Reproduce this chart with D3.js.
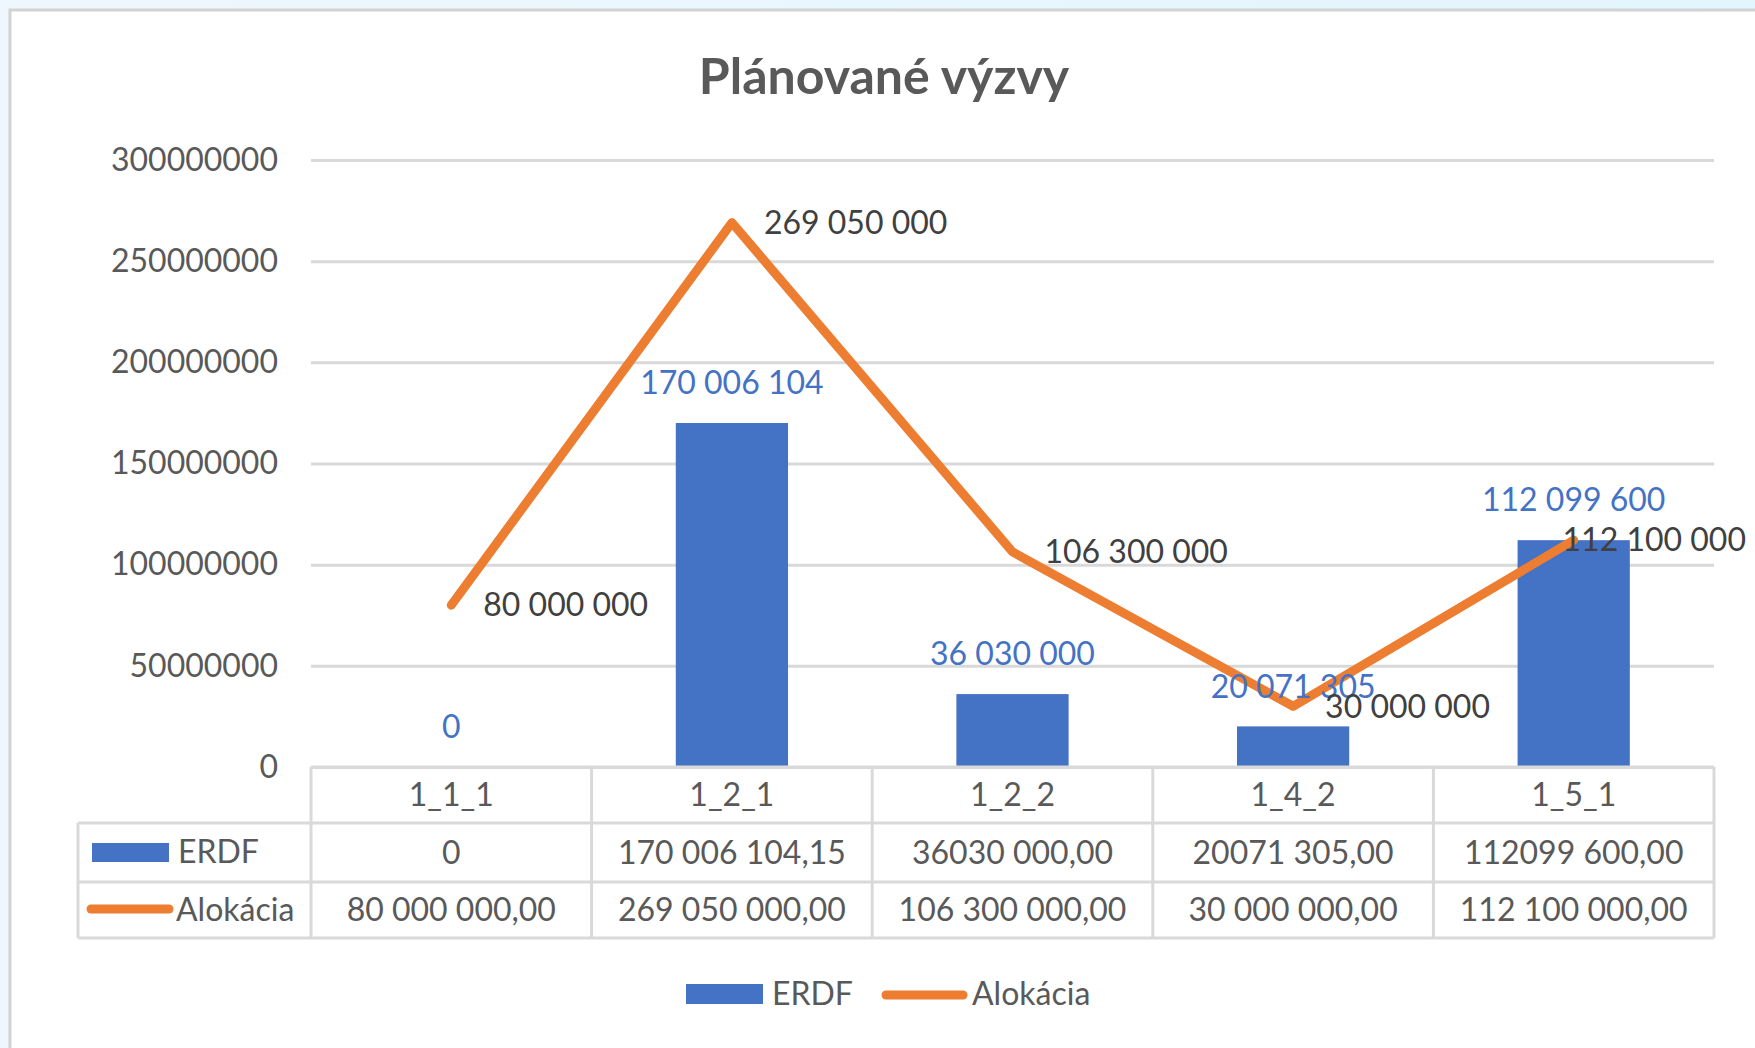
<!DOCTYPE html>
<html>
<head>
<meta charset="utf-8">
<script src="https://cdn.jsdelivr.net/npm/d3@7"></script>
<style>
  body { margin: 0; background: #ebf6fd; }
  svg { display: block; font-family: Lato, "Open Sans", sans-serif; }
</style>
</head>
<body>
<svg id="chart" width="1755" height="1048"></svg>
<script>
// data
const categories = ["1_1_1", "1_2_1", "1_2_2", "1_4_2", "1_5_1"];
const erdf = [0, 170006104.15, 36030000, 20071305, 112099600];
const alokacia = [80000000, 269050000, 106300000, 30000000, 112100000];
const erdfTable = ["0", "170 006 104,15", "36030 000,00", "20071 305,00", "112099 600,00"];
const alokTable = ["80 000 000,00", "269 050 000,00", "106 300 000,00", "30 000 000,00", "112 100 000,00"];
const yTicks = [0, 50000000, 100000000, 150000000, 200000000, 250000000, 300000000];
const seriesNames = ["ERDF", "Alokácia"];

const blue = "#4472c4", orange = "#ed7d31", grid = "#d9d9d9", txt = "#595959";

const svg = d3.select("#chart");

// background + chart frame
const defs = svg.append("defs");
const grad = defs.append("linearGradient").attr("id", "bg").attr("x1", 0).attr("x2", 1);
grad.append("stop").attr("offset", 0).attr("stop-color", "#eef7fd");
grad.append("stop").attr("offset", 1).attr("stop-color", "#e3f5fd");
svg.append("rect").attr("width", 1755).attr("height", 1048).attr("fill", "url(#bg)");
svg.append("rect").attr("x", 10).attr("y", 10).attr("width", 1760).attr("height", 1060)
  .attr("fill", "white").attr("stroke", "#d2d2d2").attr("stroke-width", 3);

const plotLeft = 311, plotRight = 1714, plotTop = 160, plotBottom = 767;

const x = d3.scaleBand().domain(categories).range([plotLeft, plotRight]);
const y = d3.scaleLinear().domain([0, 300000000]).range([plotBottom, plotTop]);
const bw = x.bandwidth() * 0.4;

const loc = d3.formatLocale({ decimal: ",", thousands: " ", grouping: [3], currency: ["", ""] });
const fmt = loc.format(",.0f");

// title
svg.append("text").attr("x", 884).attr("y", 94).attr("text-anchor", "middle")
  .attr("font-size", 50).attr("font-weight", "bold").attr("fill", txt)
  .text("Plánované výzvy");

// y axis with gridlines
const yAxis = svg.append("g").attr("transform", `translate(${plotLeft},0)`)
  .call(d3.axisLeft(y).tickValues(yTicks).tickFormat(d3.format("d"))
    .tickSize(-(plotRight - plotLeft)).tickPadding(33));
yAxis.select(".domain").remove();
yAxis.selectAll(".tick line").attr("stroke", grid).attr("stroke-width", 3);
yAxis.selectAll(".tick text").attr("font-size", 32).attr("fill", txt)
  .attr("font-family", "Lato, sans-serif");

// bars
svg.append("g").selectAll("rect").data(erdf).join("rect")
  .attr("x", (d, i) => x(categories[i]) + (x.bandwidth() - bw) / 2)
  .attr("y", d => y(d))
  .attr("width", bw)
  .attr("height", d => plotBottom - y(d))
  .attr("fill", blue);

// line
const line = d3.line()
  .x((d, i) => x(categories[i]) + x.bandwidth() / 2)
  .y(d => y(d));
svg.append("path").datum(alokacia).attr("d", line)
  .attr("fill", "none").attr("stroke", orange).attr("stroke-width", 9)
  .attr("stroke-linejoin", "round").attr("stroke-linecap", "round");

// bar labels
svg.append("g").selectAll("text").data(erdf).join("text")
  .attr("x", (d, i) => x(categories[i]) + x.bandwidth() / 2)
  .attr("y", d => y(d) - 40)
  .attr("dy", "0.35em")
  .attr("text-anchor", "middle").attr("font-size", 32).attr("fill", blue)
  .text(d => fmt(d));

// line labels (right of point, pushed inside at the right edge)
svg.append("g").selectAll("text").data(alokacia).join("text")
  .attr("x", (d, i) => x(categories[i]) + x.bandwidth() / 2 + 32)
  .attr("y", d => y(d))
  .attr("dy", "0.35em")
  .attr("font-size", 32).attr("fill", "#404040")
  .text(d => fmt(d))
  .each(function () {
    const w = this.getComputedTextLength();
    const cx = +this.getAttribute("x");
    if (cx + w > 1746) this.setAttribute("x", 1746 - w);
  });

// data table
const rowY = [767, 823, 882, 938];
const tbl = svg.append("g").attr("stroke", grid).attr("stroke-width", 3).attr("fill", "none");
tbl.append("line").attr("x1", plotLeft).attr("x2", plotRight).attr("y1", rowY[0]).attr("y2", rowY[0]);
[1, 2, 3].forEach(r => tbl.append("line").attr("x1", 78).attr("x2", plotRight).attr("y1", rowY[r]).attr("y2", rowY[r]));
tbl.append("line").attr("x1", 78).attr("x2", 78).attr("y1", rowY[1]).attr("y2", rowY[3]);
x.domain().concat([null]).forEach(c => {
  const xx = c === null ? plotRight : x(c);
  tbl.append("line").attr("x1", xx).attr("x2", xx).attr("y1", rowY[0]).attr("y2", rowY[3]);
});

const rows = [categories, erdfTable, alokTable];
rows.forEach((vals, r) => {
  svg.append("g").selectAll("text").data(vals).join("text")
    .attr("x", (d, i) => x(categories[i]) + x.bandwidth() / 2)
    .attr("y", (rowY[r] + rowY[r + 1]) / 2)
    .attr("dy", "0.35em")
    .attr("text-anchor", "middle").attr("font-size", 32).attr("fill", txt)
    .text(d => d);
});

// legend keys inside table
svg.append("rect").attr("x", 92).attr("y", 843).attr("width", 77).attr("height", 19).attr("fill", blue);
svg.append("text").attr("x", 178).attr("y", 852).attr("dy", "0.35em")
  .attr("font-size", 32).attr("fill", txt).text(seriesNames[0]);
svg.append("line").attr("x1", 91).attr("x2", 169).attr("y1", 909).attr("y2", 909)
  .attr("stroke", orange).attr("stroke-width", 9).attr("stroke-linecap", "round");
svg.append("text").attr("x", 176).attr("y", 910).attr("dy", "0.35em")
  .attr("font-size", 32).attr("fill", txt).text(seriesNames[1]);

// bottom legend
const lg = svg.append("g");
lg.append("rect").attr("x", 686).attr("y", 984).attr("width", 77).attr("height", 20).attr("fill", blue);
lg.append("text").attr("x", 772).attr("y", 994).attr("dy", "0.35em")
  .attr("font-size", 32).attr("fill", txt).text(seriesNames[0]);
lg.append("line").attr("x1", 886).attr("x2", 963).attr("y1", 995).attr("y2", 995)
  .attr("stroke", orange).attr("stroke-width", 9).attr("stroke-linecap", "round");
lg.append("text").attr("x", 972).attr("y", 994).attr("dy", "0.35em")
  .attr("font-size", 32).attr("fill", txt).text(seriesNames[1]);
</script>
</body>
</html>
